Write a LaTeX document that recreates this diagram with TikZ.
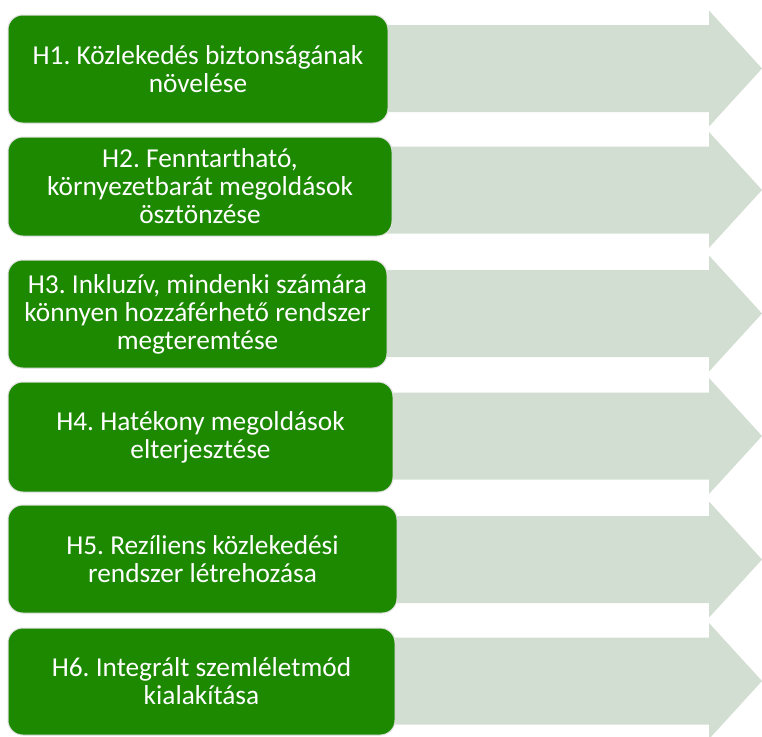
\documentclass[tikz,border=0pt]{standalone}
\usepackage{fontspec}
\setmainfont{Carlito}
\usetikzlibrary{positioning}
\definecolor{goalgreen}{HTML}{1C8900}
\definecolor{arrowgray}{HTML}{D2DED1}
\frenchspacing

\begin{document}
\begin{tikzpicture}[x=0.75pt, y=-0.75pt,
    goal/.style={draw=white!88!black, line width=0.75pt, rounded corners=11pt, fill=goalgreen, text=white, align=center, font=\fontsize{20.5}{21}\selectfont, inner sep=0pt},
    flow/.style={fill=arrowgray, draw=none},
]
\useasboundingbox (0,0) rectangle (762,736);

% arrows behind the goal boxes
\foreach \c in {68.5,190,313.5,436,559.5,681}
    \fill[flow] (380,\c-43.5) -- (709,\c-43.5) -- (709,\c-58) -- (762,\c)
        -- (709,\c+58) -- (709,\c+43.5) -- (380,\c+43.5) -- cycle;

\node[goal, minimum width=285pt, minimum height=81pt] (h1) at (198,69) {H1. Közlekedés biztonságának\\növelése};
\node[goal, minimum width=288pt, minimum height=74.25pt] (h2) at (200,186.5) {H2. Fenntartható,\\környezetbarát megoldások\\ösztönzése};
\node[goal, minimum width=284.25pt, minimum height=81pt] (h3) at (197.5,314) {H3. Inkluzív, mindenki számára\\könnyen hozzáférhető rendszer\\megteremtése};
\node[goal, minimum width=288.75pt, minimum height=82.5pt] (h4) at (200.5,437) {H4. Hatékony megoldások\\elterjesztése};
\node[goal, minimum width=291.75pt, minimum height=81pt] (h5) at (202.5,559) {H5. Rezíliens közlekedési\\rendszer létrehozása};
\node[goal, minimum width=290.25pt, minimum height=80.25pt] (h6) at (201.5,681.5) {H6. Integrált szemléletmód\\kialakítása};
\end{tikzpicture}
\end{document}
